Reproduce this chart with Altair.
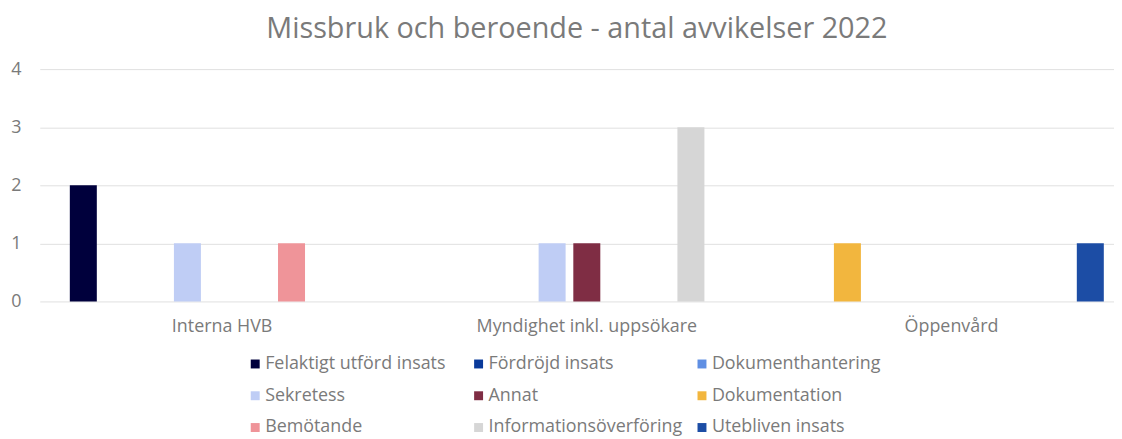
import altair as alt
import pandas as pd

series = ["Felaktigt utförd insats", "Fördröjd insats", "Dokumenthantering",
          "Sekretess", "Annat", "Dokumentation",
          "Bemötande", "Informationsöverföring", "Utebliven insats"]
colors = ["#00003C", "#0A3A9A", "#5F8FE3", "#BFCDF5", "#7F2D44", "#F2B63E",
          "#EF9499", "#D6D6D6", "#1C4DA5"]
categories = ["Interna HVB", "Myndighet inkl. uppsökare", "Öppenvård"]

bar_category = ["Interna HVB", "Interna HVB", "Interna HVB",
                "Myndighet inkl. uppsökare", "Myndighet inkl. uppsökare", "Myndighet inkl. uppsökare",
                "Öppenvård", "Öppenvård"]
bar_series = ["Felaktigt utförd insats", "Sekretess", "Bemötande",
              "Sekretess", "Annat", "Informationsöverföring",
              "Dokumentation", "Utebliven insats"]
# column (series slot) under which each bar stands in the group
bar_column = ["Felaktigt utförd insats", "Sekretess", "Bemötande",
              "Sekretess", "Annat", "Informationsöverföring",
              "Fördröjd insats", "Utebliven insats"]
bar_value = [2, 1, 1, 1, 1, 3, 1, 1]

df = pd.DataFrame({"Kategori": bar_category, "Serie": bar_series,
                   "Kolumn": bar_column, "Antal": bar_value})

FONT = "Open Sans"
GREY = "#7A7A7A"

chart = alt.Chart(df).mark_bar().encode(
    x=alt.X("Kategori:N", sort=categories,
            scale=alt.Scale(domain=categories, range=[0, 1102], paddingInner=0, paddingOuter=0),
            axis=alt.Axis(title=None, labelAngle=0, ticks=False, domain=False, labelLimit=400,
                          labelFontSize=18, labelColor=GREY, labelFont=FONT, labelPadding=16)),
    xOffset=alt.XOffset("Kolumn:N", sort=series,
                        scale=alt.Scale(domain=series, paddingInner=0.222, paddingOuter=0.866)),
    y=alt.Y("Antal:Q", scale=alt.Scale(domain=[0, 4]),
            axis=alt.Axis(title=None, values=[0, 1, 2, 3, 4], ticks=False, domain=False,
                          labelFontSize=18, labelColor=GREY, labelFont=FONT, labelPadding=19,
                          gridColor="#E0E0E0", gridWidth=1)),
    color=alt.Color("Serie:N", scale=alt.Scale(domain=series, range=colors),
                    legend=alt.Legend(title=None, orient="none", legendX=208, legendY=288,
                                      direction="horizontal",
                                      columns=3, symbolType="square", symbolSize=81,
                                      symbolStrokeWidth=0, labelFontSize=18, labelColor=GREY,
                                      labelFont=FONT, labelLimit=400, rowPadding=14,
                                      columnPadding=10, gridAlign="all", labelOffset=1)),
).properties(
    width=1082, height=234,
    title=alt.TitleParams("Missbruk och beroende - antal avvikelser 2022",
                          fontSize=29, font=FONT, fontWeight="normal", color=GREY,
                          anchor="middle", offset=16, dx=0),
    autosize=alt.AutoSizeParams(type="none"),
    padding={"left": 32, "top": 60, "right": 0, "bottom": 137},
).configure_view(stroke=None).configure_axis(grid=True).configure_axisX(grid=False)

chart.save("out.html", embed_options={"renderer": "svg", "actions": False})
